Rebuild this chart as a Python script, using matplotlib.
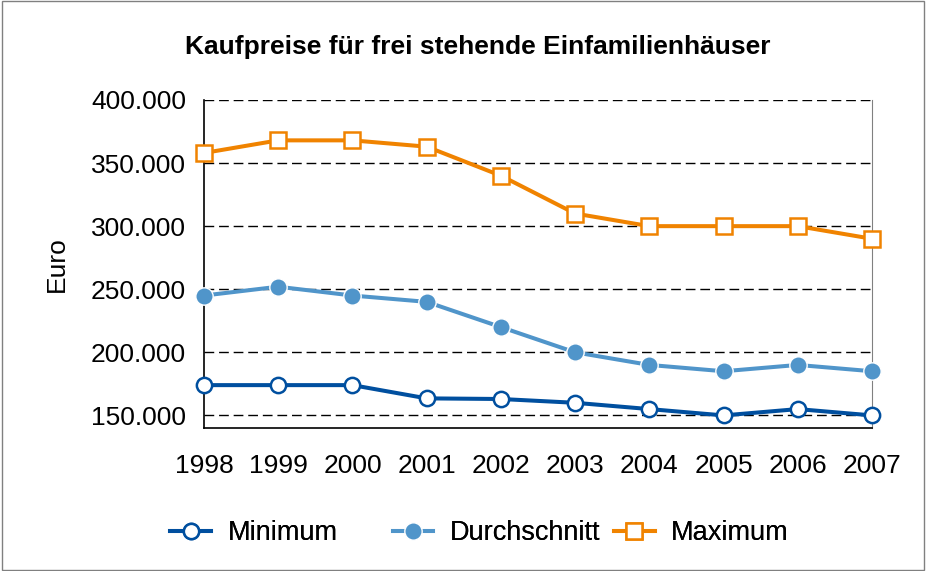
import matplotlib
matplotlib.use('Agg')
from matplotlib import pyplot as plt
from matplotlib.ticker import FuncFormatter

plt.rcParams['font.family'] = ['Liberation Sans', 'DejaVu Sans']

years = [1998, 1999, 2000, 2001, 2002, 2003, 2004, 2005, 2006, 2007]
minimum = [174000, 174000, 174000, 163500, 163000, 160000, 155000, 150000, 155000, 150000]
durchschnitt = [245000, 252000, 245000, 240000, 220000, 200000, 190000, 185000, 190000, 185000]
maximum = [358000, 368000, 368000, 363000, 340000, 310000, 300000, 300000, 300000, 290000]
y_ticks = [150000, 200000, 250000, 300000, 350000, 400000]

fig = plt.figure(figsize=(9.26, 5.71), dpi=100)
ax = fig.add_axes([0.2203, 0.2504, 0.7214, 0.5745])

lines = []
lines += ax.plot(years, minimum, color='#004f9f', lw=2.9, marker='o', ms=11,
                 mfc='white', mec='#004f9f', mew=1.8, label='Minimum', clip_on=False, zorder=5)
lines += ax.plot(years, durchschnitt, color='#5095ca', lw=2.9, marker='o', ms=12.5,
                 mfc='#5095ca', mec='white', mew=1, label='Durchschnitt', clip_on=False, zorder=5)
lines += ax.plot(years, maximum, color='#f08300', lw=2.9, marker='s', ms=11.5,
                 mfc='white', mec='#f08300', mew=1.8, label='Maximum', clip_on=False, zorder=5)

ax.set_xlim(1998, 2007)
ax.set_ylim(140000, 400000)
ax.set_xticks(years)
ax.set_yticks(y_ticks)
ax.yaxis.set_major_formatter(FuncFormatter(lambda v, p: f'{int(v):,}'.replace(',', '.')))
ax.tick_params(length=0, labelsize=19)
ax.tick_params(axis='x', pad=19)
ax.tick_params(axis='y', pad=13)
ax.grid(axis='y', color='black', ls=(0, (7, 3.5)), lw=1)
ax.set_axisbelow(True)
ax.spines['top'].set_visible(False)
ax.spines['right'].set_color('#808080')
ax.spines['left'].set_linewidth(1.2)
ax.spines['bottom'].set_linewidth(1.2)

ax.set_ylabel('Euro', fontsize=19, labelpad=16)
fig.text(0.516, 0.918, 'Kaufpreise für frei stehende Einfamilienhäuser',
         ha='center', va='center', fontsize=19, fontweight='bold')

# one legend per entry, placed like the original (uneven column gaps)
legend_x = [0.184, 0.424, 0.663]
for line, lx in zip(lines, legend_x):
    leg = fig.legend([line], [line.get_label()], loc='center left', bbox_to_anchor=(lx, 0.066),
                     frameon=False, fontsize=19.5, handlelength=1.5, handletextpad=0.6,
                     borderaxespad=0, borderpad=0)
    fig.add_artist(leg)

fig.patches.append(plt.Rectangle((0.002, 0.002), 0.996, 0.996, transform=fig.transFigure,
                                 fill=False, edgecolor='#808080', lw=1))

fig.savefig('out.png', dpi=100)
